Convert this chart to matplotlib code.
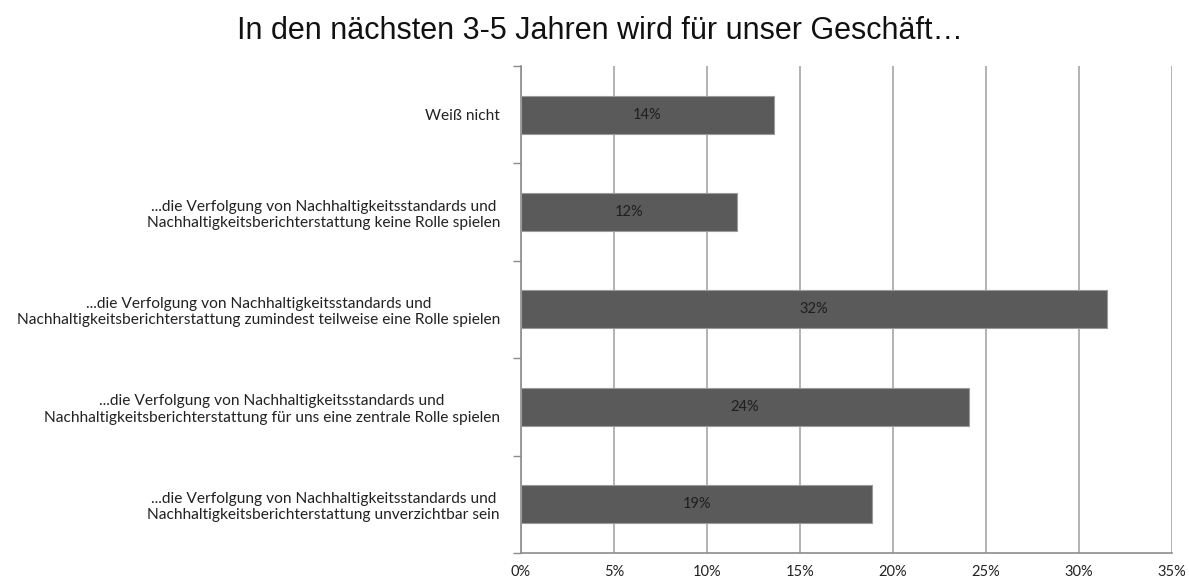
import matplotlib.pyplot as plt
from matplotlib.ticker import PercentFormatter

# categories top to bottom as in the chart
categories = [
    "Weiß nicht",
    "...die Verfolgung von Nachhaltigkeitsstandards und\nNachhaltigkeitsberichterstattung keine Rolle spielen",
    "...die Verfolgung von Nachhaltigkeitsstandards und\nNachhaltigkeitsberichterstattung zumindest teilweise eine Rolle spielen",
    "...die Verfolgung von Nachhaltigkeitsstandards und\nNachhaltigkeitsberichterstattung für uns eine zentrale Rolle spielen",
    "...die Verfolgung von Nachhaltigkeitsstandards und\nNachhaltigkeitsberichterstattung unverzichtbar sein",
]
values = [13.6, 11.6, 31.5, 24.1, 18.9]
value_labels = ["14%", "12%", "32%", "24%", "19%"]
x_ticks = [0, 5, 10, 15, 20, 25, 30, 35]

title = "In den nächsten 3-5 Jahren wird für unser Geschäft…"

fig = plt.figure(figsize=(11.89, 5.82), dpi=100)
ax = fig.add_axes([0.438, 0.050, 0.5477, 0.8366])

y = list(range(len(categories)))[::-1]   # first category on top
bars = ax.barh(y, values, height=0.39, color="#5a5a5a", edgecolor="#9a9a9a", linewidth=0.8, zorder=3)

for b, lab in zip(bars, value_labels):
    ax.text(b.get_width() / 2, b.get_y() + b.get_height() / 2, lab,
            ha="center", va="center", fontsize=10.5, color="#1e1e1e", family="Lato", zorder=4)

ax.set_xlim(0, 35)
ax.set_ylim(-0.5, len(categories) - 0.5)
ax.set_xticks(x_ticks)
ax.xaxis.set_major_formatter(PercentFormatter(decimals=0))
ax.grid(axis="x", color="#a6a6a6", linewidth=1.2, zorder=0)

ax.set_yticks(y)
ax.set_yticklabels(categories, fontsize=11.2, family="Lato", color="#222222")
for t in ax.get_yticklabels():
    t.set_multialignment("center")
ax.set_yticks([i - 0.5 for i in range(len(categories) + 1)], minor=True)
ax.tick_params(axis="y", which="major", length=0, pad=15)
ax.tick_params(axis="y", which="minor", length=6, color="#8c8c8c", width=1)
ax.tick_params(axis="x", length=0, pad=9, labelsize=10.5)
for t in ax.get_xticklabels():
    t.set_family("Lato")
    t.set_color("#222222")

for side in ["top", "right"]:
    ax.spines[side].set_visible(False)
ax.spines["left"].set_color("#8c8c8c")
ax.spines["left"].set_linewidth(1.2)
ax.spines["bottom"].set_color("#8c8c8c")
ax.spines["bottom"].set_linewidth(1.2)

fig.text(0.5046, 0.947, title, ha="center", va="center", fontsize=22, family="Liberation Sans", color="#111111")

fig.savefig("out.png", dpi=100)
